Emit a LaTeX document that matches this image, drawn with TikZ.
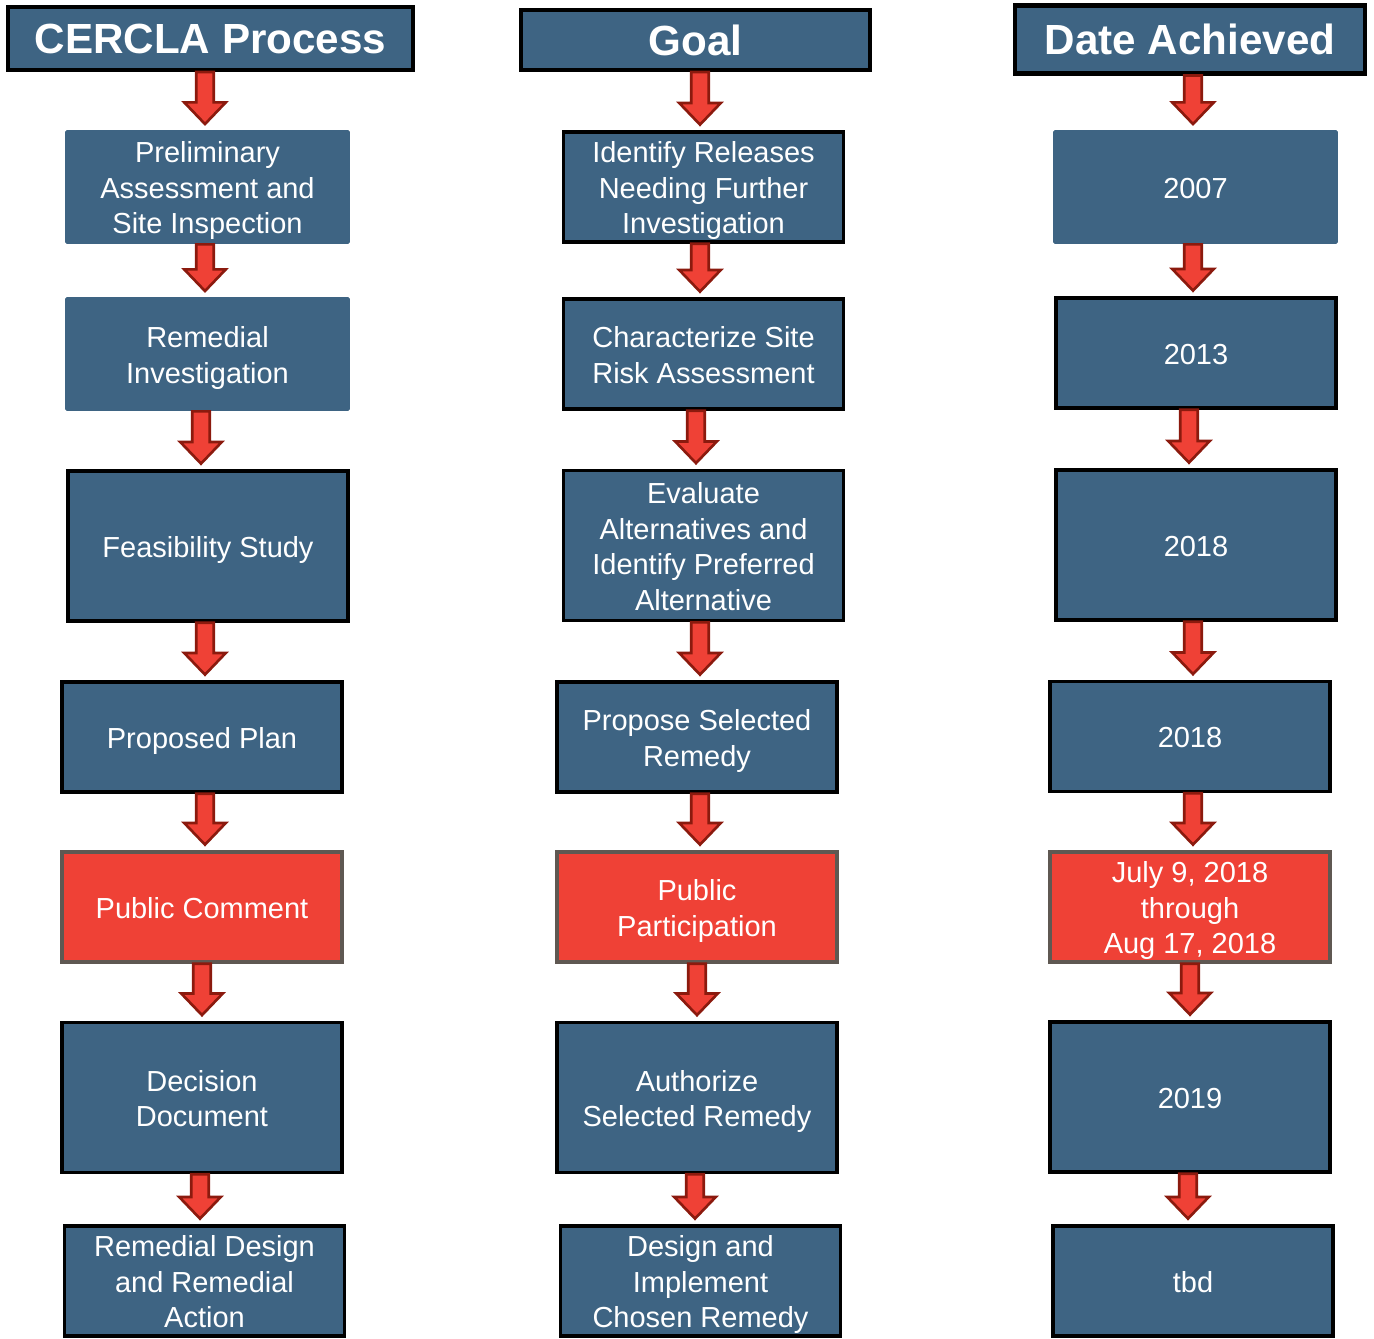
\documentclass[tikz,border=0pt]{standalone}
\usepackage{fontspec}
\setmainfont{Liberation Sans}
\usetikzlibrary{calc}
\definecolor{slate}{HTML}{3E6483}
\definecolor{alert}{HTML}{EF4136}
\definecolor{arrdark}{HTML}{8B1A0E}
\definecolor{edgegray}{HTML}{5F5852}
%% block arrow from one box down to the next, at a given x
\newcommand{\downarr}[3]{%
  \filldraw[arr] let \p1=(#2.north), \p2=(#1.south), \p3=(#3,0) in
    (\x3-5pt,\y2) -- (\x3+5pt,\y2) -- (\x3+5pt,\y1+15.5pt) -- (\x3+11.8pt,\y1+15.5pt)
    -- (\x3,\y1+3.2pt) -- (\x3-11.8pt,\y1+15.5pt) -- (\x3-5pt,\y1+15.5pt) -- cycle;}
\newcommand{\ls}{\rule[-3.6pt]{0pt}{20.2pt}}

\begin{document}
\begin{tikzpicture}[x=0.02cm, y=-0.02cm,
  bx/.style={rectangle, fill=slate, text=white, align=center, inner sep=0pt},
  body/.style={bx, font=\fontsize{16.5}{20.2}\selectfont,
               execute at begin node=\ls, execute at end node=\ls},
  plain/.style={body, rounded corners=1pt, minimum width=5.7cm, minimum height=2.28cm},
  blk/.style={body, draw=black, line width=2pt, minimum width=5.6cm, minimum height=2.2cm},
  hot/.style={blk, draw=edgegray, fill=alert},
  tall/.style={minimum height=3.0cm},
  hd/.style={bx, draw=black, line width=2.3pt, font=\fontsize{24}{28}\bfseries},
  arr/.style={fill=alert, draw=arrdark, line width=1.5pt, line join=miter}
]
\useasboundingbox (0,0) rectangle (1374,1339);
%% Headers
\node[hd, minimum width=8.1cm, minimum height=1.26cm] (p0) at (210.5,38.5) {CERCLA Process};
\node[hd, minimum width=7.0cm, minimum height=1.2cm]  (g0) at (695.5,40)   {Goal};
\node[hd, minimum width=7.0cm, minimum height=1.36cm] (d0) at (1190,39.5)  {Date Achieved};
%% CERCLA process column
\node[plain]     (p1) at (207.5,187)  {\ls Preliminary\\Assessment and\\Site Inspection\ls};
\node[plain]     (p2) at (207.5,354)  {\ls Remedial\\Investigation\ls};
\node[blk,tall]  (p3) at (208,546)    {Feasibility Study};
\node[blk]       (p4) at (202,737)    {Proposed Plan};
\node[hot]       (p5) at (202,907)    {Public Comment};
\node[blk,tall]  (p6) at (202,1097.5) {\ls Decision\\Document\ls};
\node[blk]       (p7) at (204.5,1281) {\ls Remedial Design\\and Remedial\\Action\ls};
%% Goal column
\node[blk]       (g1) at (703.5,187)  {\ls Identify Releases\\Needing Further\\Investigation\ls};
\node[blk]       (g2) at (703.5,354)  {\ls Characterize Site\\Risk Assessment\ls};
\node[blk,tall]  (g3) at (703.5,545.5){\ls Evaluate\\Alternatives and\\Identify Preferred\\Alternative\ls};
\node[blk]       (g4) at (697,737)    {\ls Propose Selected\\Remedy\ls};
\node[hot]       (g5) at (697,907)    {\ls Public\\Participation\ls};
\node[blk,tall]  (g6) at (697,1097.5) {\ls Authorize\\Selected Remedy\ls};
\node[blk]       (g7) at (700.5,1281) {\ls Design and\\Implement\\Chosen Remedy\ls};
%% Date column
\node[plain]     (d1) at (1195.5,187) {2007};
\node[blk]       (d2) at (1196,353)   {2013};
\node[blk,tall]  (d3) at (1196,545)   {2018};
\node[blk]       (d4) at (1190,736.5) {2018};
\node[hot]       (d5) at (1190,907)   {\ls July 9, 2018\\through\\Aug 17, 2018\ls};
\node[blk,tall]  (d6) at (1190,1097)  {2019};
\node[blk]       (d7) at (1193,1281)  {tbd};
%% Arrows
\foreach \c/\bx in {p/205,g/700,d/1193}{
  \foreach \i/\dx [count=\j from 1] in {0/0,1/0,2/-4,3/0,4/0,5/-3,6/-5}
    {\downarr{\c\i}{\c\j}{\bx+\dx}}
}
\end{tikzpicture}
\end{document}
